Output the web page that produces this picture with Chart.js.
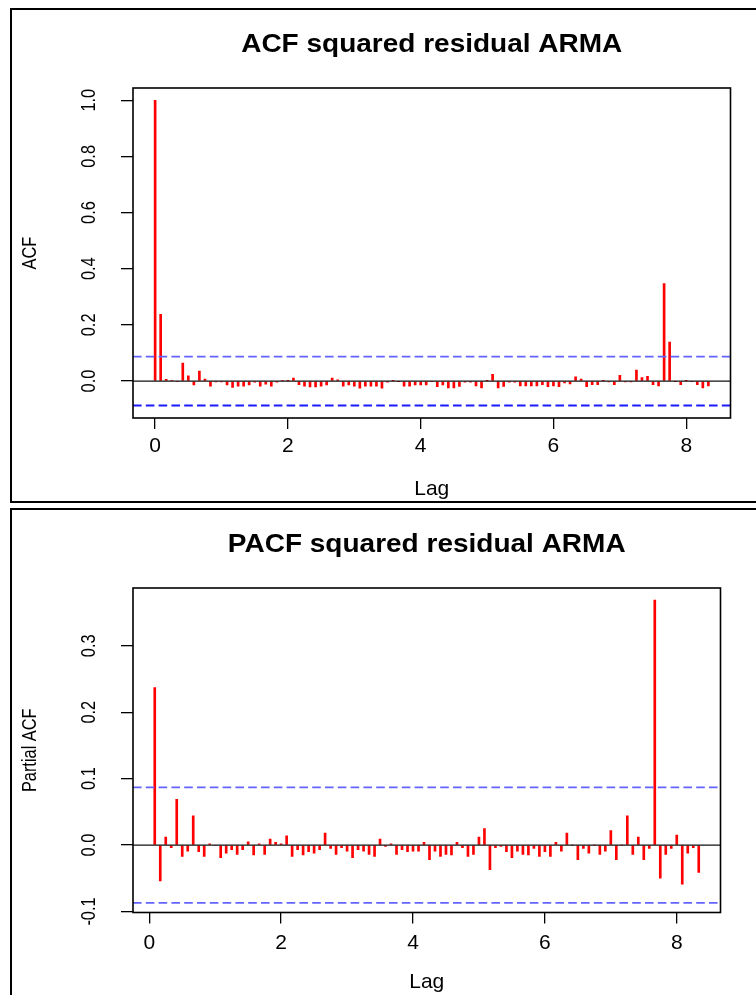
<!DOCTYPE html>
<html>
<head>
<meta charset="utf-8">
<title>ACF / PACF squared residual ARMA</title>
<script src="https://cdn.jsdelivr.net/npm/chart.js@4.4.1/dist/chart.umd.min.js"></script>
<style>
  html, body { margin: 0; padding: 0; background: #fff; width: 756px; height: 995px; overflow: hidden; position: relative; }
  .panel { position: absolute; box-sizing: border-box; border: 2px solid #000; background: #fff; }
  canvas { position: absolute; left: 0; }
</style>
</head>
<body>
<div class="panel" style="left:10px; top:8px; width:760px; height:495px"></div>
<div class="panel" style="left:10px; top:508px; width:760px; height:500px"></div>
<canvas id="acfChart" width="756" height="505" style="top:0"></canvas>
<canvas id="pacfChart" width="756" height="490" style="top:505px"></canvas>

<script>
// ─── DATA ───
const FREQ = 12; // monthly series, lag axis is in years

// ACF, lags 0..100
const ACF_VALUES = [
  1.000, 0.238, 0.006, 0.002, -0.002, 0.064, 0.019, -0.014, 0.036, 0.007,
  -0.018, -0.003, -0.003, -0.014, -0.023, -0.018, -0.018, -0.014, -0.004, -0.018,
  -0.011, -0.018, -0.004, 0.003, 0.001, 0.011, -0.013, -0.018, -0.021, -0.021,
  -0.018, -0.014, 0.011, 0.004, -0.018, -0.014, -0.018, -0.025, -0.018, -0.018,
  -0.018, -0.025, -0.004, 0.001, -0.001, -0.018, -0.018, -0.014, -0.014, -0.014,
  -0.002, -0.020, -0.014, -0.024, -0.024, -0.019, -0.004, -0.004, -0.017, -0.024,
  0.001, 0.024, -0.024, -0.019, -0.004, -0.004, -0.017, -0.017, -0.017, -0.017,
  -0.013, -0.020, -0.017, -0.020, -0.007, -0.010, 0.015, 0.007, -0.020, -0.013,
  -0.013, 0.001, -0.003, -0.013, 0.020, -0.003, -0.003, 0.039, 0.012, 0.017,
  -0.013, -0.017, 0.347, 0.139, -0.001, -0.013, 0.001, -0.002, -0.013, -0.024,
  -0.017
];

// PACF, lags 1..100
const PACF_VALUES = [
  0.237, -0.054, 0.012, -0.004, 0.069, -0.017, -0.009, 0.044, -0.010, -0.017,
  0.002, -0.001, -0.019, -0.012, -0.007, -0.014, -0.007, 0.005, -0.015, 0.002,
  -0.014, 0.009, 0.004, 0.002, 0.014, -0.017, -0.007, -0.015, -0.010, -0.012,
  -0.007, 0.018, -0.005, -0.014, -0.004, -0.009, -0.019, -0.007, -0.009, -0.014,
  -0.017, 0.009, -0.002, 0.002, -0.014, -0.007, -0.010, -0.009, -0.009, 0.004,
  -0.022, -0.009, -0.017, -0.014, -0.015, 0.004, -0.004, -0.017, -0.014, 0.012,
  0.025, -0.037, -0.004, -0.002, -0.010, -0.019, -0.009, -0.014, -0.015, -0.005,
  -0.017, -0.010, -0.017, 0.004, -0.009, 0.018, 0.000, -0.022, -0.005, -0.012,
  0.000, -0.014, -0.009, 0.022, -0.022, 0.000, 0.044, -0.014, 0.012, -0.022,
  -0.005, 0.369, -0.050, -0.014, -0.005, 0.015, -0.059, -0.012, -0.004, -0.041
];

const CI = 0.087; // 95% band
const X_TICKS = [0, 2, 4, 6, 8];
const ACF_Y_TICKS = [0, 0.2, 0.4, 0.6, 0.8, 1.0];
const PACF_Y_TICKS = [-0.1, 0, 0.1, 0.2, 0.3];

const acfLags = ACF_VALUES.map((_, k) => k / FREQ);
const pacfLags = PACF_VALUES.map((_, k) => (k + 1) / FREQ);

// ─── TEXT HELPERS ───
// R's device text looks narrow: squash horizontal text a little, rotated text more
const SY_H = 0.92;
const SY_V = 0.78;
const FONT = '21px "Liberation Sans", Arial, sans-serif';
const TITLE_FONT = 'bold 28px "Liberation Sans", Arial, sans-serif';

function label(ctx, text, x, y, rot, font) {
  ctx.save();
  ctx.font = font;
  ctx.textAlign = 'center';
  ctx.textBaseline = 'middle';
  ctx.translate(x, y);
  ctx.scale(1, rot ? SY_V : SY_H);
  ctx.rotate(rot);
  ctx.fillText(text, 0, 0);
  ctx.restore();
}

// box, titles and labels drawn in R style
const rDecor = {
  id: 'rDecor',
  afterDatasetsDraw(chart, args, o) {
    const { ctx, chartArea: a, scales: { x, y } } = chart;
    ctx.save();
    ctx.strokeStyle = '#000';
    ctx.lineWidth = 1.6;
    ctx.strokeRect(a.left, a.top, a.right - a.left, a.bottom - a.top);
    ctx.fillStyle = '#000';
    label(ctx, o.title, (a.left + a.right) / 2, o.titleY, 0, TITLE_FONT);
    o.yTicks.forEach(v => label(ctx, v.toFixed(1), o.yTickX, y.getPixelForValue(v), -Math.PI / 2, FONT));
    X_TICKS.forEach(v => label(ctx, String(v), x.getPixelForValue(v), o.xTickY, 0, FONT));
    label(ctx, o.yTitle, o.yTitleX, (a.top + a.bottom) / 2, -Math.PI / 2, FONT);
    label(ctx, 'Lag', (a.left + a.right) / 2, o.xTitleY, 0, FONT);
    ctx.restore();
  }
};

function hLine(xMin, xMax, yv, color, width, dash) {
  return {
    type: 'line',
    data: [{ x: xMin, y: yv }, { x: xMax, y: yv }],
    borderColor: color,
    borderWidth: width,
    borderDash: dash || [],
    pointRadius: 0,
    order: 1
  };
}

function makeChart(id, lags, values, cfg) {
  const xLo = lags[0], xHi = lags[lags.length - 1];
  const xPad = 0.04 * (xHi - xLo);
  const xMin = xLo - xPad, xMax = xHi + xPad;

  return new Chart(document.getElementById(id), {
    type: 'bar',
    data: {
      datasets: [
        {
          type: 'bar',
          data: lags.map((l, i) => ({ x: l, y: values[i] })),
          backgroundColor: '#ff0000',
          barThickness: 2,
          order: 2
        },
        hLine(xMin, xMax, 0, '#111', 1.2),
        hLine(xMin, xMax, CI, cfg.ciColors[0], 1.8, [8.6, 4.2]),
        hLine(xMin, xMax, -CI, cfg.ciColors[1], 1.8, [8.6, 4.2])
      ]
    },
    options: {
      responsive: false,
      animation: false,
      events: [],
      layout: { padding: { top: cfg.top, right: cfg.right, left: 0, bottom: 0 } },
      plugins: {
        legend: { display: false },
        tooltip: { enabled: false },
        rDecor: cfg.decor
      },
      scales: {
        x: {
          type: 'linear',
          min: xMin, max: xMax,
          offset: false,
          afterBuildTicks: s => { s.ticks = X_TICKS.map(v => ({ value: v })); },
          afterFit: s => { s.height = cfg.xAxisH; },
          ticks: { display: false },
          grid: { drawOnChartArea: false, drawTicks: true, tickLength: 11, color: '#000', lineWidth: 1.3, offset: false },
          border: { display: false }
        },
        y: {
          type: 'linear',
          min: cfg.yRange[0], max: cfg.yRange[1],
          afterBuildTicks: s => { s.ticks = cfg.yTicks.map(v => ({ value: v })); },
          afterFit: s => { s.width = 133; },
          ticks: { display: false },
          grid: { drawOnChartArea: false, drawTicks: true, tickLength: 12, color: '#000', lineWidth: 1.3 },
          border: { display: false }
        }
      }
    },
    plugins: [rDecor]
  });
}

makeChart('acfChart', acfLags, ACF_VALUES, {
  top: 88, right: 25.5, xAxisH: 87,
  yRange: [-0.1315, 1.0435],
  yTicks: ACF_Y_TICKS,
  ciColors: ['#6262ff', '#1a1aff'],
  decor: { title: 'ACF squared residual ARMA', titleY: 45, yTitle: 'ACF', yTitleX: 30,
           yTicks: ACF_Y_TICKS, yTickX: 89, xTickY: 447, xTitleY: 490 }
});

makeChart('pacfChart', pacfLags, PACF_VALUES, {
  top: 83, right: 35.5, xAxisH: 82.5,
  yRange: [-0.1015, 0.387],
  yTicks: PACF_Y_TICKS,
  ciColors: ['#6464ff', '#6464ff'],
  decor: { title: 'PACF squared residual ARMA', titleY: 40, yTitle: 'Partial ACF', yTitleX: 30,
           yTicks: PACF_Y_TICKS, yTickX: 89, xTickY: 439, xTitleY: 478 }
});
</script>
</body>
</html>
